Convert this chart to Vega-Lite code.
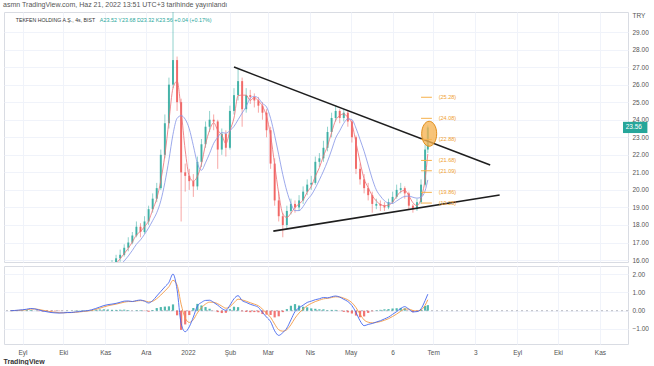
{
  "$schema": "https://vega.github.io/schema/vega-lite/v6.json",
  "padding": {"left": 3, "top": 0, "right": 0, "bottom": 0},
  "autosize": {"type": "pad"},
  "spacing": 0,
  "title": {"text": "asmn TradingView.com, Haz 21, 2022 13:51 UTC+3 tarihinde yayınlandı", "anchor": "start", "fontSize": 7, "fontWeight": "normal", "color": "#555", "offset": 4},
  "datasets": {
    "candles": [
      {"d":"2021-10-31","o":15.2,"h":15.5,"l":15.1,"c":15.3,"r":15.2,"b":15.1},
      {"d":"2021-11-03","o":15.3,"h":15.7,"l":15.2,"c":15.5,"r":15.35,"b":15.2},
      {"d":"2021-11-06","o":15.5,"h":16.0,"l":15.4,"c":15.8,"r":15.53,"b":15.3},
      {"d":"2021-11-09","o":15.8,"h":16.3,"l":15.7,"c":16.1,"r":15.8,"b":15.5},
      {"d":"2021-11-12","o":16.1,"h":16.6,"l":15.9,"c":16.3,"r":16.07,"b":15.71},
      {"d":"2021-11-15","o":16.3,"h":16.9,"l":16.2,"c":16.7,"r":16.37,"b":15.95},
      {"d":"2021-11-18","o":16.7,"h":17.3,"l":16.5,"c":17.0,"r":16.67,"b":16.23},
      {"d":"2021-11-21","o":17.0,"h":17.6,"l":16.9,"c":17.4,"r":17.03,"b":16.55},
      {"d":"2021-11-24","o":17.4,"h":18.2,"l":17.3,"c":17.9,"r":17.43,"b":16.9},
      {"d":"2021-11-27","o":17.9,"h":18.1,"l":17.3,"c":17.6,"r":17.63,"b":17.15},
      {"d":"2021-11-30","o":17.6,"h":18.5,"l":17.5,"c":18.2,"r":17.9,"b":17.47},
      {"d":"2021-12-03","o":18.2,"h":19.1,"l":18.0,"c":18.9,"r":18.23,"b":17.83},
      {"d":"2021-12-06","o":18.9,"h":19.8,"l":18.7,"c":19.5,"r":18.87,"b":18.25},
      {"d":"2021-12-09","o":19.5,"h":20.4,"l":19.3,"c":20.1,"r":19.5,"b":18.7},
      {"d":"2021-12-12","o":20.1,"h":22.3,"l":20.0,"c":22.0,"r":20.53,"b":19.38},
      {"d":"2021-12-15","o":22.0,"h":24.3,"l":21.8,"c":23.8,"r":21.97,"b":20.42},
      {"d":"2021-12-18","o":23.8,"h":26.4,"l":23.5,"c":26.0,"r":23.93,"b":21.72},
      {"d":"2021-12-21","o":26.0,"h":30.6,"l":25.8,"c":27.4,"r":25.8,"b":23.17},
      {"d":"2021-12-24","o":27.4,"h":27.6,"l":24.5,"c":25.0,"r":26.2,"b":24.08},
      {"d":"2021-12-27","o":25.0,"h":25.2,"l":18.2,"c":21.0,"r":24.53,"b":24.23},
      {"d":"2021-12-30","o":21.0,"h":21.5,"l":19.9,"c":20.8,"r":22.27,"b":24.03},
      {"d":"2022-01-02","o":20.8,"h":21.2,"l":20.0,"c":20.5,"r":20.77,"b":23.48},
      {"d":"2022-01-05","o":20.5,"h":20.9,"l":19.6,"c":20.2,"r":20.5,"b":22.52},
      {"d":"2022-01-08","o":20.2,"h":21.9,"l":20.0,"c":21.6,"r":20.77,"b":21.52},
      {"d":"2022-01-11","o":21.6,"h":22.9,"l":21.3,"c":22.6,"r":21.47,"b":21.12},
      {"d":"2022-01-14","o":22.6,"h":23.9,"l":22.4,"c":23.6,"r":22.6,"b":21.55},
      {"d":"2022-01-17","o":23.6,"h":24.5,"l":23.3,"c":24.0,"r":23.4,"b":22.08},
      {"d":"2022-01-20","o":24.0,"h":24.3,"l":23.4,"c":23.9,"r":23.83,"b":22.65},
      {"d":"2022-01-23","o":23.9,"h":24.0,"l":21.2,"c":22.3,"r":23.4,"b":23.0},
      {"d":"2022-01-26","o":22.3,"h":23.5,"l":22.0,"c":23.2,"r":23.13,"b":23.27},
      {"d":"2022-01-29","o":23.2,"h":23.4,"l":21.9,"c":22.4,"r":22.63,"b":23.23},
      {"d":"2022-02-01","o":22.4,"h":24.8,"l":22.3,"c":24.5,"r":23.37,"b":23.38},
      {"d":"2022-02-04","o":24.5,"h":25.8,"l":24.3,"c":25.4,"r":24.1,"b":23.62},
      {"d":"2022-02-07","o":25.4,"h":26.9,"l":25.1,"c":26.2,"r":25.37,"b":24.0},
      {"d":"2022-02-10","o":26.2,"h":26.4,"l":23.6,"c":24.6,"r":25.4,"b":24.38},
      {"d":"2022-02-13","o":24.6,"h":25.8,"l":24.4,"c":25.4,"r":25.4,"b":24.75},
      {"d":"2022-02-16","o":25.4,"h":25.7,"l":24.9,"c":25.3,"r":25.1,"b":25.23},
      {"d":"2022-02-19","o":25.3,"h":25.5,"l":24.7,"c":25.1,"r":25.27,"b":25.33},
      {"d":"2022-02-22","o":25.1,"h":25.3,"l":24.4,"c":24.8,"r":25.07,"b":25.23},
      {"d":"2022-02-25","o":24.8,"h":25.0,"l":24.0,"c":24.4,"r":24.77,"b":24.93},
      {"d":"2022-02-28","o":24.4,"h":24.6,"l":23.0,"c":23.4,"r":24.2,"b":24.73},
      {"d":"2022-03-03","o":23.4,"h":23.6,"l":21.2,"c":21.5,"r":23.1,"b":24.08},
      {"d":"2022-03-06","o":21.5,"h":21.8,"l":19.1,"c":19.4,"r":21.43,"b":23.1},
      {"d":"2022-03-09","o":19.4,"h":19.9,"l":18.2,"c":18.5,"r":19.8,"b":22.0},
      {"d":"2022-03-12","o":18.5,"h":18.7,"l":17.3,"c":18.0,"r":18.63,"b":20.87},
      {"d":"2022-03-15","o":18.0,"h":19.1,"l":17.8,"c":18.8,"r":18.43,"b":19.93},
      {"d":"2022-03-18","o":18.8,"h":19.5,"l":18.6,"c":19.2,"r":18.67,"b":19.23},
      {"d":"2022-03-21","o":19.2,"h":19.4,"l":18.7,"c":19.0,"r":19.0,"b":18.82},
      {"d":"2022-03-24","o":19.0,"h":19.7,"l":18.8,"c":19.4,"r":19.2,"b":18.82},
      {"d":"2022-03-27","o":19.4,"h":20.2,"l":19.2,"c":19.9,"r":19.43,"b":19.05},
      {"d":"2022-03-30","o":19.9,"h":20.6,"l":19.7,"c":20.3,"r":19.87,"b":19.43},
      {"d":"2022-04-02","o":20.3,"h":20.8,"l":20.0,"c":20.4,"r":20.2,"b":19.7},
      {"d":"2022-04-05","o":20.4,"h":21.9,"l":20.3,"c":21.6,"r":20.77,"b":20.1},
      {"d":"2022-04-08","o":21.6,"h":22.1,"l":21.3,"c":21.8,"r":21.27,"b":20.57},
      {"d":"2022-04-11","o":21.8,"h":22.8,"l":21.6,"c":22.4,"r":21.93,"b":21.07},
      {"d":"2022-04-14","o":22.4,"h":23.6,"l":22.2,"c":23.3,"r":22.5,"b":21.63},
      {"d":"2022-04-17","o":23.3,"h":24.4,"l":23.0,"c":24.1,"r":23.27,"b":22.27},
      {"d":"2022-04-20","o":24.1,"h":24.8,"l":23.9,"c":24.5,"r":23.97,"b":22.95},
      {"d":"2022-04-23","o":24.5,"h":24.6,"l":23.8,"c":24.1,"r":24.23,"b":23.37},
      {"d":"2022-04-26","o":24.1,"h":24.6,"l":23.9,"c":24.4,"r":24.33,"b":23.8},
      {"d":"2022-04-29","o":24.4,"h":24.5,"l":23.6,"c":23.9,"r":24.13,"b":24.05},
      {"d":"2022-05-02","o":23.9,"h":24.0,"l":22.7,"c":23.0,"r":23.77,"b":24.0},
      {"d":"2022-05-05","o":23.0,"h":23.1,"l":20.9,"c":21.2,"r":22.7,"b":23.52},
      {"d":"2022-05-08","o":21.2,"h":21.5,"l":20.3,"c":20.6,"r":21.6,"b":22.87},
      {"d":"2022-05-11","o":20.6,"h":20.9,"l":19.8,"c":20.1,"r":20.63,"b":22.2},
      {"d":"2022-05-14","o":20.1,"h":20.4,"l":19.4,"c":19.7,"r":20.13,"b":21.42},
      {"d":"2022-05-17","o":19.7,"h":19.9,"l":18.7,"c":19.2,"r":19.67,"b":20.63},
      {"d":"2022-05-20","o":19.1,"h":19.5,"l":18.9,"c":19.2,"r":19.37,"b":20.0},
      {"d":"2022-05-23","o":19.2,"h":19.4,"l":18.8,"c":19.1,"r":19.17,"b":19.65},
      {"d":"2022-05-26","o":19.1,"h":19.3,"l":18.8,"c":19.0,"r":19.1,"b":19.38},
      {"d":"2022-05-29","o":19.0,"h":19.5,"l":18.9,"c":19.3,"r":19.13,"b":19.25},
      {"d":"2022-06-01","o":19.3,"h":19.9,"l":19.2,"c":19.6,"r":19.3,"b":19.23},
      {"d":"2022-06-04","o":19.6,"h":20.3,"l":19.5,"c":20.0,"r":19.63,"b":19.37},
      {"d":"2022-06-07","o":20.0,"h":20.4,"l":19.8,"c":20.1,"r":19.9,"b":19.52},
      {"d":"2022-06-10","o":20.1,"h":20.2,"l":19.5,"c":19.8,"r":19.97,"b":19.63},
      {"d":"2022-06-13","o":19.8,"h":19.9,"l":18.9,"c":19.1,"r":19.67,"b":19.65},
      {"d":"2022-06-16","o":19.1,"h":19.2,"l":18.7,"c":18.9,"r":19.27,"b":19.58},
      {"d":"2022-06-19","o":18.9,"h":19.5,"l":18.8,"c":19.3,"r":19.1,"b":19.53},
      {"d":"2022-06-22","o":19.3,"h":20.6,"l":19.2,"c":20.3,"r":19.5,"b":19.58},
      {"d":"2022-06-25","o":20.3,"h":22.6,"l":20.2,"c":22.3,"r":20.63,"b":19.95},
      {"d":"2022-06-27","o":22.3,"h":23.68,"l":22.1,"c":23.56,"r":22.05,"b":20.57}
    ],
    "macd": [
      {"d":"2021-08-23","m":0,"s":0,"h":0},
      {"d":"2021-08-26","m":0.01,"s":0.005,"h":0.005},
      {"d":"2021-08-29","m":0.03,"s":0.015,"h":0.015},
      {"d":"2021-09-01","m":0.05,"s":0.03,"h":0.02},
      {"d":"2021-09-04","m":0.08,"s":0.05,"h":0.03},
      {"d":"2021-09-07","m":0.12,"s":0.084,"h":0.036},
      {"d":"2021-09-10","m":0.10,"s":0.092,"h":0.008},
      {"d":"2021-09-13","m":0.04,"s":0.066,"h":-0.026},
      {"d":"2021-09-16","m":-0.02,"s":0.023,"h":-0.043},
      {"d":"2021-09-19","m":-0.06,"s":-0.019,"h":-0.041},
      {"d":"2021-09-22","m":-0.10,"s":-0.059,"h":-0.041},
      {"d":"2021-09-25","m":-0.12,"s":-0.09,"h":-0.03},
      {"d":"2021-09-28","m":-0.13,"s":-0.11,"h":-0.02},
      {"d":"2021-10-01","m":-0.12,"s":-0.115,"h":-0.005},
      {"d":"2021-10-04","m":-0.10,"s":-0.107,"h":0.007},
      {"d":"2021-10-07","m":-0.10,"s":-0.104,"h":0.004},
      {"d":"2021-10-10","m":-0.07,"s":-0.087,"h":0.017},
      {"d":"2021-10-13","m":-0.05,"s":-0.068,"h":0.018},
      {"d":"2021-10-16","m":-0.02,"s":-0.044,"h":0.024},
      {"d":"2021-10-19","m":0.0,"s":-0.022,"h":0.022},
      {"d":"2021-10-22","m":0.05,"s":0.014,"h":0.036},
      {"d":"2021-10-25","m":0.12,"s":0.067,"h":0.053},
      {"d":"2021-10-28","m":0.20,"s":0.133,"h":0.067},
      {"d":"2021-10-31","m":0.28,"s":0.207,"h":0.073},
      {"d":"2021-11-03","m":0.33,"s":0.268,"h":0.062},
      {"d":"2021-11-06","m":0.36,"s":0.314,"h":0.046},
      {"d":"2021-11-09","m":0.40,"s":0.357,"h":0.043},
      {"d":"2021-11-12","m":0.46,"s":0.409,"h":0.051},
      {"d":"2021-11-15","m":0.52,"s":0.464,"h":0.056},
      {"d":"2021-11-18","m":0.53,"s":0.497,"h":0.033},
      {"d":"2021-11-21","m":0.50,"s":0.499,"h":0.001},
      {"d":"2021-11-24","m":0.55,"s":0.524,"h":0.026},
      {"d":"2021-11-27","m":0.58,"s":0.552,"h":0.028},
      {"d":"2021-11-30","m":0.52,"s":0.536,"h":-0.016},
      {"d":"2021-12-03","m":0.42,"s":0.478,"h":-0.058},
      {"d":"2021-12-06","m":0.55,"s":0.514,"h":0.036},
      {"d":"2021-12-09","m":0.80,"s":0.657,"h":0.143},
      {"d":"2021-12-12","m":1.05,"s":0.853,"h":0.197},
      {"d":"2021-12-15","m":1.30,"s":1.077,"h":0.223},
      {"d":"2021-12-18","m":1.55,"s":1.313,"h":0.237},
      {"d":"2021-12-21","m":2.00,"s":1.657,"h":0.343},
      {"d":"2021-12-24","m":1.15,"s":1.403,"h":-0.253},
      {"d":"2021-12-27","m":-0.70,"s":0.352,"h":-1.05},
      {"d":"2021-12-30","m":-1.15,"s":-0.399,"h":-0.751},
      {"d":"2022-01-02","m":-0.88,"s":-0.64,"h":-0.24},
      {"d":"2022-01-05","m":-0.35,"s":-0.495,"h":0.145},
      {"d":"2022-01-08","m":0.25,"s":-0.122,"h":0.372},
      {"d":"2022-01-11","m":0.45,"s":0.164,"h":0.286},
      {"d":"2022-01-14","m":0.56,"s":0.362,"h":0.198},
      {"d":"2022-01-17","m":0.57,"s":0.466,"h":0.104},
      {"d":"2022-01-20","m":0.45,"s":0.458,"h":-0.008},
      {"d":"2022-01-23","m":0.30,"s":0.379,"h":-0.079},
      {"d":"2022-01-26","m":0.12,"s":0.25,"h":-0.13},
      {"d":"2022-01-29","m":0.02,"s":0.135,"h":-0.115},
      {"d":"2022-02-01","m":0.30,"s":0.217,"h":0.083},
      {"d":"2022-02-04","m":0.65,"s":0.434,"h":0.216},
      {"d":"2022-02-07","m":0.82,"s":0.627,"h":0.193},
      {"d":"2022-02-10","m":0.55,"s":0.588,"h":-0.038},
      {"d":"2022-02-13","m":0.45,"s":0.519,"h":-0.069},
      {"d":"2022-02-16","m":0.35,"s":0.435,"h":-0.085},
      {"d":"2022-02-19","m":0.28,"s":0.357,"h":-0.077},
      {"d":"2022-02-22","m":0.18,"s":0.269,"h":-0.089},
      {"d":"2022-02-25","m":-0.10,"s":0.084,"h":-0.184},
      {"d":"2022-02-28","m":-0.35,"s":-0.133,"h":-0.217},
      {"d":"2022-03-03","m":-0.60,"s":-0.366,"h":-0.234},
      {"d":"2022-03-06","m":-1.10,"s":-0.733,"h":-0.367},
      {"d":"2022-03-09","m":-1.35,"s":-1.042,"h":-0.308},
      {"d":"2022-03-12","m":-1.20,"s":-1.121,"h":-0.079},
      {"d":"2022-03-15","m":-0.95,"s":-1.035,"h":0.085},
      {"d":"2022-03-18","m":-0.50,"s":-0.768,"h":0.268},
      {"d":"2022-03-21","m":-0.05,"s":-0.409,"h":0.359},
      {"d":"2022-03-24","m":0.15,"s":-0.13,"h":0.28},
      {"d":"2022-03-27","m":0.30,"s":0.085,"h":0.215},
      {"d":"2022-03-30","m":0.45,"s":0.268,"h":0.182},
      {"d":"2022-04-02","m":0.52,"s":0.394,"h":0.126},
      {"d":"2022-04-05","m":0.60,"s":0.497,"h":0.103},
      {"d":"2022-04-08","m":0.65,"s":0.574,"h":0.076},
      {"d":"2022-04-11","m":0.72,"s":0.647,"h":0.073},
      {"d":"2022-04-14","m":0.70,"s":0.673,"h":0.027},
      {"d":"2022-04-17","m":0.76,"s":0.717,"h":0.043},
      {"d":"2022-04-20","m":0.80,"s":0.758,"h":0.042},
      {"d":"2022-04-23","m":0.74,"s":0.749,"h":-0.009},
      {"d":"2022-04-26","m":0.62,"s":0.685,"h":-0.065},
      {"d":"2022-04-29","m":0.50,"s":0.592,"h":-0.092},
      {"d":"2022-05-02","m":0.28,"s":0.436,"h":-0.156},
      {"d":"2022-05-05","m":-0.10,"s":0.168,"h":-0.268},
      {"d":"2022-05-08","m":-0.55,"s":-0.191,"h":-0.359},
      {"d":"2022-05-11","m":-0.82,"s":-0.505,"h":-0.315},
      {"d":"2022-05-14","m":-0.75,"s":-0.628,"h":-0.122},
      {"d":"2022-05-17","m":-0.70,"s":-0.664,"h":-0.036},
      {"d":"2022-05-20","m":-0.62,"s":-0.642,"h":0.022},
      {"d":"2022-05-23","m":-0.55,"s":-0.596,"h":0.046},
      {"d":"2022-05-26","m":-0.45,"s":-0.523,"h":0.073},
      {"d":"2022-05-29","m":-0.35,"s":-0.437,"h":0.087},
      {"d":"2022-06-01","m":-0.20,"s":-0.318,"h":0.118},
      {"d":"2022-06-04","m":-0.05,"s":-0.184,"h":0.134},
      {"d":"2022-06-07","m":0.12,"s":-0.032,"h":0.152},
      {"d":"2022-06-10","m":0.22,"s":0.094,"h":0.126},
      {"d":"2022-06-13","m":0.08,"s":0.087,"h":-0.007},
      {"d":"2022-06-16","m":-0.07,"s":0.009,"h":-0.079},
      {"d":"2022-06-19","m":-0.05,"s":-0.021,"h":-0.029},
      {"d":"2022-06-22","m":0.10,"s":0.04,"h":0.06},
      {"d":"2022-06-25","m":0.55,"s":0.295,"h":0.255},
      {"d":"2022-06-27","m":0.90,"s":0.597,"h":0.303}
    ],
    "trend": [
      {"d":"2022-02-04","p":27.0,"k":"upper"},
      {"d":"2022-08-12","p":21.42,"k":"upper"},
      {"d":"2022-03-05","p":17.65,"k":"lower"},
      {"d":"2022-08-19","p":19.71,"k":"lower"}
    ],
    "fib": [
      {"v":25.28,"t":"(25.28)"},
      {"v":24.08,"t":"(24.08)"},
      {"v":22.88,"t":"(22.88)"},
      {"v":21.68,"t":"(21.68)"},
      {"v":21.09,"t":"(21.09)"},
      {"v":19.86,"t":"(19.86)"},
      {"v":19.25,"t":"(19.25)"}
    ]
  },
  "vconcat": [
    {
      "width": 624,
      "height": 250,
      "data": {"name": "candles"},
      "layer": [
        {
          "mark": {"type": "rule", "clip": true, "strokeWidth": 0.6, "opacity": 0.85},
          "encoding": {
            "x": {"field": "d", "type": "temporal",
                  "scale": {"type": "utc", "domain": [{"year":2021,"month":8,"date":22,"utc":true},{"year":2022,"month":11,"date":18,"utc":true}]},
                  "axis": {"values": [{"year":2021,"month":9,"date":1,"utc":true},{"year":2021,"month":10,"date":1,"utc":true},{"year":2021,"month":11,"date":1,"utc":true},{"year":2021,"month":12,"date":1,"utc":true},{"year":2022,"month":1,"date":1,"utc":true},{"year":2022,"month":2,"date":1,"utc":true},{"year":2022,"month":3,"date":1,"utc":true},{"year":2022,"month":4,"date":1,"utc":true},{"year":2022,"month":5,"date":1,"utc":true},{"year":2022,"month":6,"date":1,"utc":true},{"year":2022,"month":7,"date":1,"utc":true},{"year":2022,"month":8,"date":1,"utc":true},{"year":2022,"month":9,"date":1,"utc":true},{"year":2022,"month":10,"date":1,"utc":true},{"year":2022,"month":11,"date":1,"utc":true}],
                           "tickCount": 40, "labels": false, "ticks": false, "domain": false, "title": null, "grid": true}},
            "y": {"field": "l", "type": "quantitative",
                  "scale": {"domain": [15.89, 30.14], "nice": false, "zero": false},
                  "axis": {"orient": "right", "values": [16,17,18,19,20,21,22,23,24,25,26,27,28,29], "tickCount": 40, "format": ".2f", "labelOverlap": false,
                           "labelAlign": "left", "labelBaseline": "middle", "labelPadding": 4, "ticks": false, "domain": false, "grid": true,
                           "title": "TRY", "titleAngle": 0, "titleX": 4, "titleY": 3, "titleAlign": "left", "titleBaseline": "middle",
                           "titleFontSize": 6.5, "titleFontWeight": "normal", "titleColor": "#555"}},
            "y2": {"field": "h"},
            "color": {"condition": {"test": "datum.c >= datum.o", "value": "#26a69a"}, "value": "#ef5350"}
          }
        },
        {
          "mark": {"type": "bar", "clip": true, "width": 2, "opacity": 0.8},
          "encoding": {
            "x": {"field": "d", "type": "temporal"},
            "y": {"field": "o", "type": "quantitative"},
            "y2": {"field": "c"},
            "color": {"condition": {"test": "datum.c >= datum.o", "value": "#26a69a"}, "value": "#ef5350"}
          }
        },
        {
          "mark": {"type": "line", "clip": true, "strokeWidth": 0.9, "color": "#ec6f76", "opacity": 0.9, "interpolate": "monotone"},
          "encoding": {
            "x": {"field": "d", "type": "temporal"},
            "y": {"field": "r", "type": "quantitative"}
          }
        },
        {
          "mark": {"type": "line", "clip": true, "strokeWidth": 0.9, "color": "#8594e6", "opacity": 0.9, "interpolate": "monotone"},
          "encoding": {
            "x": {"field": "d", "type": "temporal"},
            "y": {"field": "b", "type": "quantitative"}
          }
        },
        {
          "data": {"name": "trend"},
          "mark": {"type": "line", "color": "#1e1e1e", "strokeWidth": 1.6},
          "encoding": {
            "x": {"field": "d", "type": "temporal"},
            "y": {"field": "p", "type": "quantitative"},
            "detail": {"field": "k"}
          }
        },
        {
          "data": {"name": "fib"},
          "mark": {"type": "rule", "color": "#f6b04a", "strokeWidth": 1},
          "encoding": {
            "x": {"datum": {"year":2022,"month":6,"date":22,"utc":true}, "type": "temporal"},
            "x2": {"datum": {"year":2022,"month":6,"date":30,"utc":true}},
            "y": {"field": "v", "type": "quantitative"}
          }
        },
        {
          "data": {"name": "fib"},
          "mark": {"type": "text", "color": "#f0a030", "fontSize": 5.5, "align": "left", "baseline": "middle"},
          "encoding": {
            "x": {"datum": {"year":2022,"month":7,"date":5,"utc":true}, "type": "temporal"},
            "y": {"field": "v", "type": "quantitative"},
            "text": {"field": "t"}
          }
        },
        {
          "data": {"values": [{"k": "ellipse"}]},
          "mark": {"type": "point", "shape": "M0,-1C0.331,-1,0.6,-0.552,0.6,0C0.6,0.552,0.331,1,0,1C-0.331,1,-0.6,0.552,-0.6,0C-0.6,-0.552,-0.331,-1,0,-1Z",
                   "size": 625, "filled": true, "fill": "#f6b352", "fillOpacity": 0.78, "stroke": "#e08e1b", "strokeWidth": 1, "opacity": 1},
          "encoding": {
            "x": {"datum": {"year":2022,"month":6,"date":28,"utc":true}, "type": "temporal"},
            "y": {"datum": 23.2, "type": "quantitative"}
          }
        },
        {
          "data": {"values": [{"k": "last"}]},
          "mark": {"type": "rect", "color": "#26a69a"},
          "encoding": {
            "x": {"datum": {"year":2022,"month":11,"date":18,"utc":true}, "type": "temporal"},
            "x2": {"datum": {"year":2022,"month":12,"date":6,"utc":true}},
            "y": {"datum": 23.88, "type": "quantitative"},
            "y2": {"datum": 23.24}
          }
        },
        {
          "data": {"values": [{"t": "23.56"}]},
          "mark": {"type": "text", "color": "white", "fontSize": 6.5, "align": "left", "baseline": "middle"},
          "encoding": {
            "x": {"datum": {"year":2022,"month":11,"date":20,"utc":true}, "type": "temporal"},
            "y": {"datum": 23.56, "type": "quantitative"},
            "text": {"field": "t"}
          }
        },
        {
          "data": {"values": [{"t": "TEKFEN HOLDING A.Ş., 4s, BIST"}]},
          "mark": {"type": "text", "color": "#333", "fontSize": 5.2, "align": "left", "baseline": "middle"},
          "encoding": {
            "x": {"datum": {"year":2021,"month":8,"date":27,"utc":true}, "type": "temporal"},
            "y": {"datum": 29.68, "type": "quantitative"},
            "text": {"field": "t"}
          }
        },
        {
          "data": {"values": [{"t": "A23.52 Y23.68 D23.32 K23.56 +0.04 (+0.17%)"}]},
          "mark": {"type": "text", "color": "#26a69a", "fontSize": 5.4, "align": "left", "baseline": "middle"},
          "encoding": {
            "x": {"datum": {"year":2021,"month":10,"date":28,"utc":true}, "type": "temporal"},
            "y": {"datum": 29.68, "type": "quantitative"},
            "text": {"field": "t"}
          }
        }
      ]
    },
    {
      "width": 624,
      "height": 78,
      "data": {"name": "macd"},
      "title": {"text": "TradingView", "orient": "bottom", "anchor": "start", "fontSize": 7, "fontWeight": "bold", "color": "#333", "offset": 2},
      "layer": [
        {
          "data": {"values": [{"k": "zero"}]},
          "mark": {"type": "rule", "strokeDash": [2, 3], "color": "#a8abb5", "strokeWidth": 0.8},
          "encoding": {
            "y": {"datum": 0, "type": "quantitative",
                  "scale": {"domain": [-1.82, 2.44], "nice": false, "zero": false},
                  "axis": {"orient": "right", "values": [-1, 0, 1, 2], "tickCount": 40, "format": ".2f", "labelOverlap": false, "labelAlign": "left", "labelBaseline": "middle",
                           "labelPadding": 4, "ticks": false, "domain": false, "grid": true, "title": null}}
          }
        },
        {
          "mark": {"type": "bar", "width": 2.2, "opacity": 0.8},
          "encoding": {
            "x": {"field": "d", "type": "temporal",
                  "scale": {"type": "utc", "domain": [{"year":2021,"month":8,"date":22,"utc":true},{"year":2022,"month":11,"date":18,"utc":true}]},
                  "axis": {"values": [{"year":2021,"month":9,"date":1,"utc":true},{"year":2021,"month":10,"date":1,"utc":true},{"year":2021,"month":11,"date":1,"utc":true},{"year":2021,"month":12,"date":1,"utc":true},{"year":2022,"month":1,"date":1,"utc":true},{"year":2022,"month":2,"date":1,"utc":true},{"year":2022,"month":3,"date":1,"utc":true},{"year":2022,"month":4,"date":1,"utc":true},{"year":2022,"month":5,"date":1,"utc":true},{"year":2022,"month":6,"date":1,"utc":true},{"year":2022,"month":7,"date":1,"utc":true},{"year":2022,"month":8,"date":1,"utc":true},{"year":2022,"month":9,"date":1,"utc":true},{"year":2022,"month":10,"date":1,"utc":true},{"year":2022,"month":11,"date":1,"utc":true}],
                           "tickCount": 40,
                           "labelExpr": "utcmonth(datum.value) == 0 ? '2022' : ['Oca','Şub','Mar','Nis','May','6','Tem','3','Eyl','Eki','Kas','Ara'][utcmonth(datum.value)]",
                           "labelAlign": "center", "labelFlush": false, "labelOverlap": false, "labelPadding": 5,
                           "ticks": false, "domain": false, "title": null, "grid": true}},
            "y": {"field": "h", "type": "quantitative"},
            "y2": {"datum": 0},
            "color": {"condition": {"test": "datum.h >= 0", "value": "#26a69a"}, "value": "#ef5350"}
          }
        },
        {
          "mark": {"type": "line", "strokeWidth": 0.9, "color": "#f39a45", "interpolate": "monotone"},
          "encoding": {
            "x": {"field": "d", "type": "temporal"},
            "y": {"field": "s", "type": "quantitative"}
          }
        },
        {
          "mark": {"type": "line", "strokeWidth": 0.9, "color": "#4466ee", "interpolate": "monotone"},
          "encoding": {
            "x": {"field": "d", "type": "temporal"},
            "y": {"field": "m", "type": "quantitative"}
          }
        }
      ]
    }
  ],
  "config": {
    "font": "Liberation Sans",
    "view": {"stroke": "#d9dce3"},
    "axis": {"labelFontSize": 6.5, "labelColor": "#555", "gridColor": "#f0f3fa", "gridWidth": 1, "labelOverlap": false}
  }
}
